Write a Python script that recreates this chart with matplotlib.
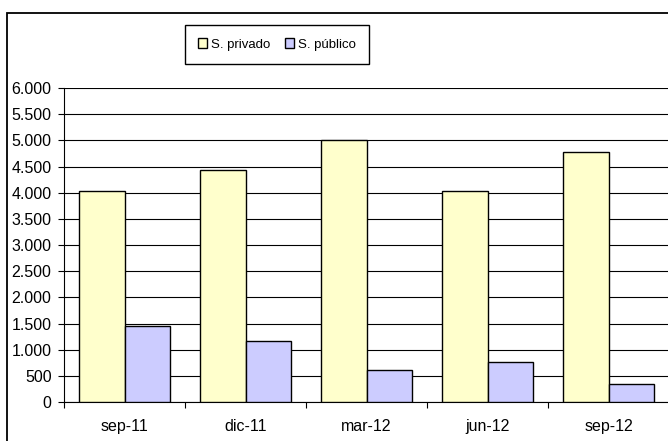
import matplotlib
matplotlib.use("Agg")
import matplotlib.pyplot as plt
from matplotlib.patches import Rectangle
from matplotlib.ticker import FuncFormatter
import numpy as np

plt.rcParams['font.family'] = ['Liberation Sans', 'DejaVu Sans']

fechas = ["sep-11", "dic-11", "mar-12", "jun-12", "sep-12"]
privado = [4040, 4430, 5000, 4040, 4780]
publico = [1450, 1165, 610, 765, 345]

fig = plt.figure(figsize=(6.68, 4.41), dpi=100)

# marco exterior del gráfico
marco = Rectangle((7 / 668, -0.05), 1.0, 1 - 13 / 441 + 0.05, transform=fig.transFigure,
                  fill=False, edgecolor="black", linewidth=1.3, clip_on=False)
fig.patches.append(marco)

ax = fig.add_axes([64 / 668, 1 - 402 / 441, 605 / 668, 314 / 441])

x = np.arange(len(fechas))
w = 0.375
b1 = ax.bar(x - w / 2, privado, w, color="#FFFFCC", edgecolor="black", linewidth=1, zorder=3, label="S. privado")
b2 = ax.bar(x + w / 2, publico, w, color="#CCCCFF", edgecolor="black", linewidth=1, zorder=3, label="S. público")

ax.set_xlim(-0.5, len(fechas) - 0.5)
ax.set_ylim(0, 6000)
ax.set_yticks(np.arange(0, 6001, 500))
ax.yaxis.set_major_formatter(FuncFormatter(lambda v, p: f"{int(v):,}".replace(",", ".")))
ax.yaxis.grid(True, color="black", linewidth=0.8, zorder=0)

ax.set_xticks(x)
ax.set_xticklabels(fechas)
ax.set_xticks(np.arange(-0.5, len(fechas), 1), minor=True)
ax.tick_params(axis="x", which="major", length=0, pad=12, labelsize=11.5)
ax.tick_params(axis="x", which="minor", length=4.5, width=0.8, direction="out")
ax.tick_params(axis="y", length=4.5, width=0.8, direction="out", pad=4.5, labelsize=11.5)

for s in ["top", "right"]:
    ax.spines[s].set_visible(False)
for s in ["left", "bottom"]:
    ax.spines[s].set_linewidth(0.8)

fig.legend(handles=[b1, b2], loc="center", bbox_to_anchor=(277 / 668, 1 - 44.5 / 441),
           ncol=2, fontsize=9.5, frameon=True, fancybox=False, edgecolor="black",
           handlelength=0.7, handleheight=0.7, handletextpad=0.3, columnspacing=1.1,
           borderpad=1.0, framealpha=1)

fig.savefig("out.png", dpi=100)
